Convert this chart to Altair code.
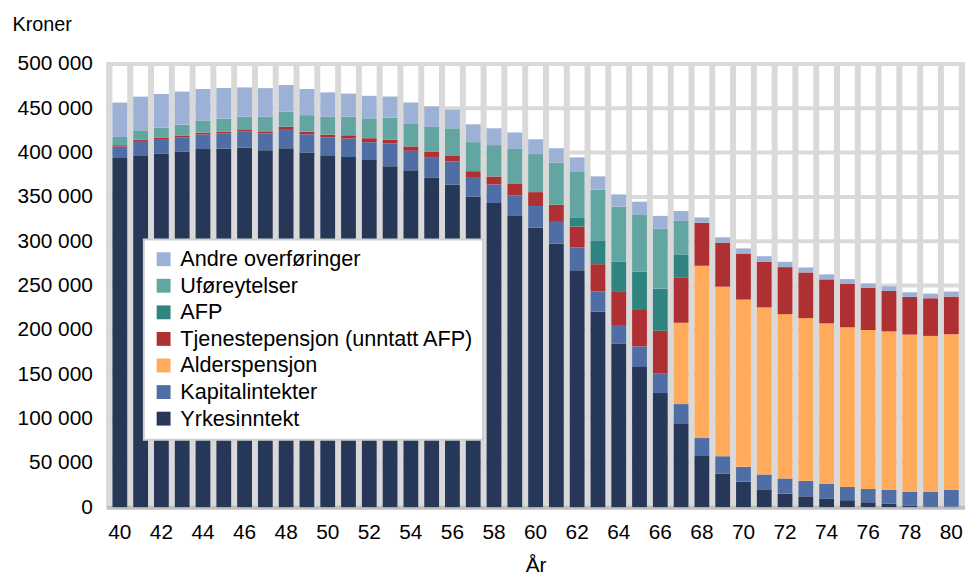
import altair as alt
import pandas as pd

ages = list(range(40, 81))

yrkesinntekt = [393800, 397100, 399000, 400900, 403900, 404600, 405700, 402700, 405000, 400100,
                397100, 394900, 391600, 384500, 380000, 371400, 364000, 350200, 343100, 328500,
                315500, 297200, 267400, 220800, 184200, 158900, 128700, 94700, 58600, 38100,
                28700, 20200, 15300, 12300, 9400, 7900, 5600, 3800, 2000, 1000, 500]
kapitalintekter = [13000, 16000, 16400, 16400, 16400, 17200, 17900, 19000, 21600, 20500,
                   20100, 20900, 20100, 25700, 22000, 23500, 26100, 21300, 20900, 23100,
                   24200, 24600, 25700, 22400, 21300, 22400, 22400, 21600, 19400, 19400,
                   16800, 16800, 17200, 17500, 16800, 14900, 14900, 16000, 15600, 16200, 19300]
alderspensjon = [0] * 27 + [91700, 194300, 191300, 188700, 188300, 185300, 183500, 181200,
                            180100, 179400, 178600, 177100, 176000, 175300]
tjenestepensjon = [1500, 1200, 1500, 1500, 2200, 1900, 2600, 2200, 2600, 3000,
                   3000, 3700, 4500, 4500, 4900, 6000, 6000, 7500, 9000, 13000,
                   15700, 19400, 23500, 30900, 37300, 42100, 48000, 50700, 48500, 49600,
                   51400, 51800, 53000, 51500, 49600, 49200, 47700, 45500, 42500, 42500, 42500]
afp = [0] * 22 + [9700, 26800, 33900, 42500, 47500, 26500] + [0] * 13
uforeytelser = [9300, 10800, 11200, 12700, 13800, 14500, 14500, 16400, 17200, 18600,
                20100, 20900, 22400, 24600, 26100, 28000, 31300, 32800, 35400, 39500,
                42900, 47700, 52600, 57400, 62300, 64500, 67800, 37700] + [0] * 13
andre = [38800, 38000, 38000, 37300, 35400, 34700, 32800, 32400, 29800, 29500,
         27600, 26100, 25400, 23900, 23500, 23100, 20900, 20100, 19000, 18600,
         16700, 16000, 15700, 14900, 13800, 14200, 14200, 11200, 6000, 6000,
         6300, 6000, 6000, 5600, 5600, 5200, 4800, 5200, 5200, 5200, 5600]

series_names = ["Yrkesinntekt", "Kapitalintekter", "Alderspensjon",
                "Tjenestepensjon (unntatt AFP)", "AFP", "Uføreytelser", "Andre overføringer"]
series_values = [yrkesinntekt, kapitalintekter, alderspensjon, tjenestepensjon, afp,
                 uforeytelser, andre]
series_colors = ["#263757", "#4F6EA6", "#FFAB5B", "#AF3033", "#2F8480", "#63A5A0", "#9DB1D6"]

y_ticks = list(range(0, 500001, 50000))
grid_values = list(range(50000, 500001, 50000))

rows = []
for k, (name, vals) in enumerate(zip(series_names, series_values)):
    for a, v in zip(ages, vals):
        rows.append({"Alder": a, "Serie": name, "Verdi": v, "Rekkefolge": k})
df = pd.DataFrame(rows)
bg = pd.DataFrame({"Alder": ages, "Topp": [500000] * len(ages)})
grid = pd.DataFrame({"g": grid_values})

FONT = "Liberation Sans"
xscale = alt.Scale(paddingInner=0.286, paddingOuter=0.3)
yscale = alt.Scale(domain=[0, 500000], nice=False)

x_axis = alt.Axis(title="År", labelExpr="datum.value % 2 === 0 ? datum.label : ''",
                  labelAngle=0, labelOverlap=False, ticks=False, tickSize=0,
                  domain=True, domainColor="#BFBFBF", domainWidth=4, grid=False,
                  labelFontSize=21, labelFont=FONT, labelColor="black",
                  labelBaseline="alphabetic", labelPadding=32,
                  titleFontSize=21, titleFont=FONT, titleFontWeight="normal",
                  titleColor="black", titleY=65, titleBaseline="alphabetic")
y_axis = alt.Axis(title="Kroner", values=y_ticks,
                  labelExpr="replace(format(datum.value, ','), ',', ' ')",
                  domain=False, ticks=False, tickSize=0, grid=False,
                  labelFontSize=21, labelFont=FONT, labelColor="black", labelPadding=14,
                  titleAngle=0, titleX=-95, titleY=-34, titleAlign="left",
                  titleBaseline="alphabetic", titleFontSize=20, titleFont=FONT,
                  titleFontWeight="normal", titleColor="black")

legend_order = series_names[::-1]
legend_colors = series_colors[::-1]

background = alt.Chart(bg).mark_bar(color="white").encode(
    x=alt.X("Alder:O", scale=xscale, axis=x_axis),
    y=alt.Y("Topp:Q", scale=yscale, axis=y_axis),
)

rules = alt.Chart(grid).mark_rule(color="#D9D9D9", strokeWidth=4).encode(
    y=alt.Y("g:Q", scale=yscale, axis=y_axis),
)

bars = alt.Chart(df).mark_bar().encode(
    x=alt.X("Alder:O", scale=xscale, axis=x_axis),
    y=alt.Y("Verdi:Q", stack="zero", scale=yscale, axis=y_axis),
    color=alt.Color("Serie:N",
                    scale=alt.Scale(domain=legend_order, range=legend_colors),
                    legend=alt.Legend(title=None, orient="none", legendX=38, legendY=177,
                                      symbolType="square", symbolSize=196,
                                      symbolStrokeWidth=0, labelFontSize=21.8,
                                      labelFont=FONT, labelColor="black", labelLimit=500,
                                      labelOffset=6, rowPadding=3.8, padding=9,
                                      fillColor="white", strokeColor="#D0D0D0")),
    order=alt.Order("Rekkefolge:Q", sort="ascending"),
)

chart = alt.layer(background, rules, bars).properties(
    width=866, height=447,
    autosize=alt.AutoSizeParams(type="none"),
    padding={"left": 99, "top": 54, "right": 0, "bottom": 68},
).configure(font=FONT).configure_view(fill="#D9D9D9", strokeWidth=0).configure_legend(
    strokeWidth=2
)

chart.save("out.html", embed_options={"renderer": "svg", "actions": False})
